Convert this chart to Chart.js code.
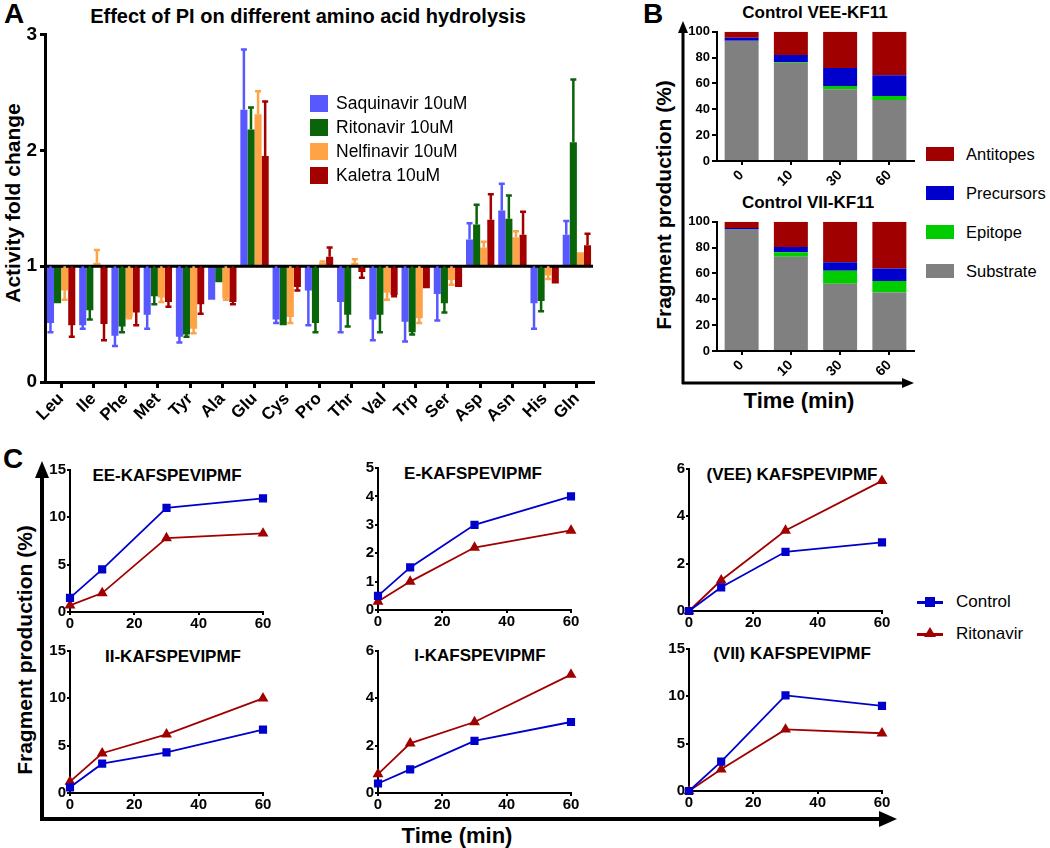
<!DOCTYPE html>
<html>
<head>
<meta charset="utf-8">
<script src="https://cdn.jsdelivr.net/npm/chart.js"></script>
<style>
body { margin:0; background:#fff; width:1050px; height:848px; position:relative; overflow:hidden; font-family: Arial, "Liberation Sans", sans-serif; }
canvas { position:absolute; }
.t { position:absolute; white-space:nowrap; color:#000; transform:translate(-50%,-50%); }
.b { font-weight:bold; }
.rot { transform:translate(-50%,-50%) rotate(-90deg); }
.box { position:absolute; }
</style>
</head>
<body>
<svg width="1050" height="848" style="position:absolute;left:0;top:0">
  <line x1="683" y1="30" x2="683" y2="384" stroke="#000" stroke-width="3"/>
  <polygon points="683,21 678,33 688,33" fill="#000"/>
  <line x1="682" y1="383" x2="903" y2="383" stroke="#000" stroke-width="3"/>
  <polygon points="914,383 902,378 902,388" fill="#000"/>
  <line x1="42" y1="474" x2="42" y2="821" stroke="#000" stroke-width="4"/>
  <polygon points="42,461 35,478 49,478" fill="#000"/>
  <line x1="40" y1="819" x2="882" y2="819" stroke="#000" stroke-width="4"/>
  <polygon points="897,819 879,811 879,827" fill="#000"/>
</svg>

<div class="t b" style="left:14px;top:14px;font-size:28px">A</div>
<div class="t b" style="left:653px;top:14px;font-size:28px">B</div>
<div class="t b" style="left:13px;top:459px;font-size:28px">C</div>

<div class="t b" style="left:308px;top:16px;font-size:20px">Effect of PI on different amino acid hydrolysis</div>
<div class="t b rot" style="left:13px;top:203px;font-size:21px">Activity fold change</div>

<div class="t b" style="left:815px;top:13px;font-size:17px">Control VEE-KF11</div>
<div class="t b" style="left:808px;top:203px;font-size:17px">Control VII-KF11</div>
<div class="t b rot" style="left:664px;top:205px;font-size:21px">Fragment production (%)</div>
<div class="t b" style="left:799px;top:401px;font-size:22px">Time (min)</div>

<div class="t b rot" style="left:25px;top:650px;font-size:21px">Fragment production (%)</div>
<div class="t b" style="left:457px;top:836px;font-size:22px">Time (min)</div>

<div class="t b" style="left:167px;top:476px;font-size:17px">EE-KAFSPEVIPMF</div>
<div class="t b" style="left:173px;top:657px;font-size:17px">II-KAFSPEVIPMF</div>
<div class="t b" style="left:473px;top:474px;font-size:17px">E-KAFSPEVIPMF</div>
<div class="t b" style="left:480px;top:656px;font-size:17px">I-KAFSPEVIPMF</div>
<div class="t b" style="left:792px;top:475px;font-size:17px">(VEE) KAFSPEVIPMF</div>
<div class="t b" style="left:792px;top:654px;font-size:17px">(VII) KAFSPEVIPMF</div>

<script>
Chart.defaults.font.family = 'Arial, "Liberation Sans", sans-serif';
Chart.defaults.color = '#000';

// ---- panel A data
var aminoAcids = ['Leu','Ile','Phe','Met','Tyr','Ala','Glu','Cys','Pro','Thr','Val','Trp','Ser','Asp','Asn','His','Gln'];
var drugs = ['Saquinavir 10uM','Ritonavir 10uM','Nelfinavir 10uM','Kaletra 10uM'];
var drugColors = ['#5858FF','#0A640A','#FFA347','#A30000'];
var saquinavir = [0.51,0.49,0.40,0.58,0.39,0.71,2.35,0.54,0.79,0.69,0.54,0.52,0.76,1.23,1.48,0.68,1.27];
var saquinavirErr = [0.43,0.46,0.31,0.46,0.34,0.71,2.87,0.51,0.49,0.43,0.36,0.35,0.53,1.37,1.71,0.46,1.39];
var ritonavir = [0.68,0.62,0.48,0.74,0.41,0.86,2.18,0.49,0.51,0.58,0.58,0.43,0.68,1.36,1.41,0.70,2.07];
var ritonavirErr = [0.68,0.54,0.43,0.67,0.39,0.86,2.37,0.49,0.43,0.48,0.43,0.41,0.60,1.53,1.61,0.61,2.61];
var nelfinavir = [0.79,1.03,0.56,0.73,0.46,0.72,2.31,0.56,1.03,1.03,0.77,0.55,0.88,1.16,1.25,0.92,1.12];
var nelfinavirErr = [0.71,1.14,0.55,0.69,0.42,0.71,2.51,0.51,1.04,1.06,0.71,0.51,0.84,1.21,1.30,0.89,1.12];
var kaletra = [0.49,0.50,0.60,0.69,0.67,0.69,1.95,0.82,1.08,0.95,0.75,0.81,0.82,1.40,1.27,0.85,1.18];
var kaletraErr = [0.39,0.36,0.49,0.65,0.59,0.67,2.42,0.79,1.16,0.90,0.74,0.81,0.82,1.62,1.47,0.85,1.28];

// ---- panel B data
var timeLabels = ['0','10','30','60'];
var fragNames = ['Substrate','Epitope','Precursors','Antitopes'];
var fragColors = ['#808080','#00CC00','#0000CC','#A00000'];
var veeSubstrate = [93, 76, 55.5, 47.3];
var veeEpitope = [0, 0.6, 2.5, 3.1];
var veePrecursors = [2.4, 5.4, 14, 16];
var veeAntitopes = [4.6, 18, 28, 33.6];
var viiSubstrate = [94.4, 73, 52, 45.2];
var viiEpitope = [0, 3.5, 10.2, 8.9];
var viiPrecursors = [0.8, 3.9, 6.4, 9.7];
var viiAntitopes = [4.8, 19.6, 31.4, 36.2];

// ---- panel C data
var times = [0, 10, 30, 60];
var eeControl = [1.5, 4.5, 11, 12];
var eeRitonavir = [0.7, 2, 7.8, 8.3];
var eControl = [0.5, 1.5, 3, 4];
var eRitonavir = [0.3, 1.0, 2.2, 2.8];
var veeControl = [0, 1.0, 2.5, 2.9];
var veeRitonavir = [0, 1.3, 3.4, 5.5];
var iiControl = [0.6, 3.1, 4.3, 6.7];
var iiRitonavir = [1.2, 4.2, 6.2, 10];
var iControl = [0.4, 1.0, 2.2, 3.0];
var iRitonavir = [0.8, 2.1, 3.0, 5.0];
var viiControl = [0, 3.1, 10.1, 9.0];
var viiRitonavir = [0, 2.3, 6.5, 6.1];

function mk(left, top, w, h) {
    var c = document.createElement('canvas');
    c.width = w; c.height = h;
    c.style.left = left + 'px'; c.style.top = top + 'px';
    document.body.appendChild(c);
    return c;
}

function axis(extra, lw) {
    var o = {
        grid: { drawOnChartArea: false, color: '#000', lineWidth: lw, tickLength: 5 },
        border: { color: '#000', width: lw }
    };
    for (var k in extra) o[k] = extra[k];
    return o;
}

// ---------- panel A
var baseline = {
    id: 'baseline',
    afterDatasetsDraw: function(chart) {
        var ctx = chart.ctx, a = chart.chartArea, y = chart.scales.y.getPixelForValue(1);
        ctx.save();
        ctx.strokeStyle = '#000'; ctx.lineWidth = 3;
        ctx.beginPath(); ctx.moveTo(a.left, y); ctx.lineTo(a.right, y); ctx.stroke();
        ctx.restore();
    }
};
var errorBars = {
    id: 'errorBars',
    afterDatasetsDraw: function(chart) {
        var ctx = chart.ctx, ys = chart.scales.y;
        ctx.save();
        chart.data.datasets.forEach(function(ds, i) {
            var meta = chart.getDatasetMeta(i);
            ctx.strokeStyle = ds.backgroundColor; ctx.lineWidth = 2.5;
            meta.data.forEach(function(bar, j) {
                var e = ds.err[j];
                var v = ds.data[j][1];
                if (Math.abs(e - v) < 0.005) return;
                var ey = ys.getPixelForValue(e);
                ctx.beginPath();
                ctx.moveTo(bar.x, bar.y); ctx.lineTo(bar.x, ey);
                ctx.moveTo(bar.x - 3, ey); ctx.lineTo(bar.x + 3, ey);
                ctx.stroke();
            });
        });
        ctx.restore();
    }
};
var aValues = [saquinavir, ritonavir, nelfinavir, kaletra];
var aErrs = [saquinavirErr, ritonavirErr, nelfinavirErr, kaletraErr];
new Chart(mk(0, 20, 600, 420), {
    type: 'bar',
    data: {
        labels: aminoAcids,
        datasets: drugs.map(function(d, i) {
            return {
                label: d,
                data: aValues[i].map(function(v) { return [1, v]; }),
                err: aErrs[i],
                backgroundColor: drugColors[i],
                borderWidth: 0,
                barPercentage: 1,
                categoryPercentage: 0.88
            };
        })
    },
    options: {
        responsive: false, animation: false,
        layout: { padding: { top: 13, right: 7, left: 0, bottom: 0 } },
        plugins: { legend: { display: false }, tooltip: { enabled: false } },
        scales: {
            x: axis({
                afterFit: function(s) { s.height = 58; },
                grid: { offset: false, drawOnChartArea: false, color: '#000', lineWidth: 3, tickLength: 6 },
                ticks: { autoSkip: false, minRotation: 45, maxRotation: 45, padding: 1, font: { size: 17, weight: 'bold' } }
            }, 3),
            y: axis({
                min: 0, max: 3,
                afterFit: function(s) { s.width = 45; },
                ticks: { stepSize: 1, padding: 3, font: { size: 19, weight: 'bold' } }
            }, 3)
        }
    },
    plugins: [baseline, errorBars]
});

// ---------- panel B
function stacked(left, top, data) {
    return new Chart(mk(left, top, 245, 175), {
        type: 'bar',
        data: {
            labels: timeLabels,
            datasets: fragNames.map(function(n, i) {
                return { label: n, data: data[i], backgroundColor: fragColors[i], borderWidth: 0,
                         barPercentage: 1, categoryPercentage: 0.69 };
            })
        },
        options: {
            responsive: false, animation: false,
            layout: { padding: { top: 8, right: 11, left: 0, bottom: 0 } },
            plugins: { legend: { display: false }, tooltip: { enabled: false } },
            scales: {
                x: axis({
                    stacked: true,
                    afterFit: function(s) { s.height = 36; },
                    grid: { offset: false, drawOnChartArea: false, color: '#000', lineWidth: 2, tickLength: 4 },
                    ticks: { autoSkip: false, minRotation: 45, maxRotation: 45, padding: 2, font: { size: 14, weight: 'bold' } }
                }, 2),
                y: axis({
                    stacked: true, min: 0, max: 100,
                    afterFit: function(s) { s.width = 37; },
                    ticks: { stepSize: 20, padding: 2, font: { size: 13, weight: 'bold' } }
                }, 2)
            }
        }
    });
}
stacked(680, 22, [veeSubstrate, veeEpitope, veePrecursors, veeAntitopes]);
stacked(680, 212, [viiSubstrate, viiEpitope, viiPrecursors, viiAntitopes]);

// ---------- panel C
function pts(ys) { return times.map(function(t, i) { return { x: t, y: ys[i] }; }); }
function lines(left, top, ctrl, rito, ymax, step) {
    return new Chart(mk(left, top, 260, 175), {
        type: 'line',
        data: {
            datasets: [
                { label: 'Control', data: pts(ctrl), borderColor: '#0000CC', backgroundColor: '#0000CC',
                  borderWidth: 1.8, pointStyle: 'rect', pointRadius: 4.5, clip: false },
                { label: 'Ritonavir', data: pts(rito), borderColor: '#A00000', backgroundColor: '#A00000',
                  borderWidth: 1.8, pointStyle: 'triangle', pointRadius: 4.5, clip: false }
            ]
        },
        options: {
            responsive: false, animation: false,
            layout: { padding: { top: 10, right: 17, left: 0, bottom: 0 } },
            plugins: { legend: { display: false }, tooltip: { enabled: false } },
            scales: {
                x: axis({
                    type: 'linear', min: 0, max: 60,
                    afterFit: function(s) { s.height = 23; },
                    grid: { drawOnChartArea: false, color: '#000', lineWidth: 2, tickLength: 3 },
                    ticks: { stepSize: 20, padding: 0, font: { size: 15, weight: 'bold' } }
                }, 2),
                y: axis({
                    min: 0, max: ymax,
                    afterFit: function(s) { s.width = 50; },
                    grid: { drawOnChartArea: false, color: '#000', lineWidth: 2, tickLength: 3 },
                    ticks: { stepSize: step, padding: 1, font: { size: 15, weight: 'bold' } }
                }, 2)
            }
        }
    });
}
lines(20, 460, eeControl, eeRitonavir, 15, 5);
lines(20, 641, iiControl, iiRitonavir, 15, 5);
lines(328, 458, eControl, eRitonavir, 5, 1);
lines(328, 641, iControl, iRitonavir, 6, 2);
lines(639, 459, veeControl, veeRitonavir, 6, 2);
lines(639, 639, viiControl, viiRitonavir, 15, 5);

// ---------- legends
function addBox(x, y, w, h, color) {
    var d = document.createElement('div');
    d.className = 'box';
    d.style.cssText = 'left:' + x + 'px;top:' + y + 'px;width:' + w + 'px;height:' + h + 'px;background:' + color;
    document.body.appendChild(d);
    return d;
}
function addText(x, y, text, size) {
    var d = document.createElement('div');
    d.style.cssText = 'position:absolute;white-space:nowrap;left:' + x + 'px;top:' + y + 'px;font-size:' + size + 'px;transform:translateY(-50%)';
    d.textContent = text;
    document.body.appendChild(d);
}
drugs.forEach(function(d, i) {
    var cy = 103 + i * 24;
    addBox(310, cy - 8, 18, 17, drugColors[i]);
    addText(336, cy, d, 17.5);
});
[3, 2, 1, 0].forEach(function(i, k) {
    var cy = 154 + k * 39;
    addBox(926, cy - 7, 28, 14, fragColors[i]);
    addText(966, cy, fragNames[i], 16.5);
});
[['Control', '#0000CC', 602], ['Ritonavir', '#A00000', 634]].forEach(function(s, k) {
    addBox(917, s[2] - 1.5, 26, 3, s[1]);
    if (k === 0) {
        addBox(925, s[2] - 5, 10, 10, s[1]);
    } else {
        var t = document.createElement('div');
        t.style.cssText = 'position:absolute;left:924px;top:' + (s[2] - 7) + 'px;width:0;height:0;border-left:6px solid transparent;border-right:6px solid transparent;border-bottom:10px solid ' + s[1];
        document.body.appendChild(t);
    }
    addText(956, s[2], s[0], 17);
});
</script>
</body>
</html>
